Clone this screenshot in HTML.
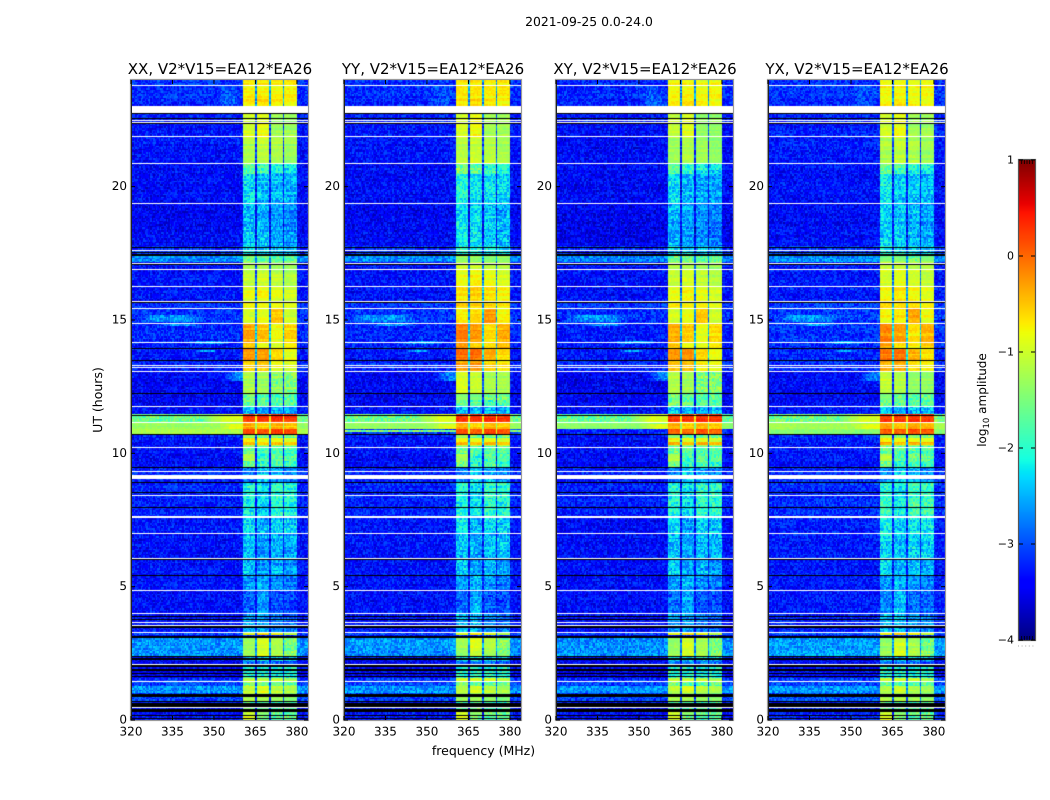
<!DOCTYPE html>
<html lang="en">
<head>
<meta charset="utf-8">
<title>2021-09-25 0.0-24.0 dynamic spectra</title>
<style>
html,body{margin:0;padding:0;background:#fff;}
#figure{position:relative;width:1050px;height:800px;overflow:hidden;background:#fff;}
#figure canvas{position:absolute;display:block;}
#overlay{position:absolute;left:0;top:0;}
#overlay text{font-family:"DejaVu Sans","Liberation Sans",sans-serif;fill:#000;text-rendering:geometricPrecision;}
</style>
</head>
<body>
<div id="figure">
  <svg id="overlay" width="1050" height="800" viewBox="0 0 1050 800">
    <text x="589" y="26" text-anchor="middle" font-size="12.4">2021-09-25 0.0-24.0</text>
    <text x="483.5" y="755" text-anchor="middle" font-size="12.5">frequency (MHz)</text>
    <text transform="translate(102,400) rotate(-90)" text-anchor="middle" font-size="12.5">UT (hours)</text>
    <text transform="translate(986,400) rotate(-90)" text-anchor="middle" font-size="12">log<tspan font-size="8.5" dy="3">10</tspan><tspan dy="-3"> amplitude</tspan></text>
    <line x1="1018" y1="646" x2="1035" y2="646" stroke="#aaa" stroke-width="1" stroke-dasharray="1 2.6"/>
  </svg>
</div>
<script>
// ---- Axis tick data ----
const freqTicks = [320, 335, 350, 365, 380];
const hourTicks = [0, 5, 10, 15, 20];
const colorTicks = [1, 0, -1, -2, -3, -4];
const panelNames = ['XX', 'YY', 'XY', 'YX'];
const panelTitles = ['XX, V2*V15=EA12*EA26', 'YY, V2*V15=EA12*EA26', 'XY, V2*V15=EA12*EA26', 'YX, V2*V15=EA12*EA26'];

// ---- Heatmap data: log10 amplitude per time band ----
const bandTopHour = [24.00,23.25,22.76,22.39,21.86,20.89,20.44,19.35,17.74,17.40,17.14,16.88,16.24,15.68,15.45,14.89,14.14,13.91,13.50,13.05,12.23,11.78,11.44,11.18,10.91,10.70,10.58,10.46,10.35,10.24,9.94,9.74,9.49,8.89,7.58,6.98,6.00,5.40,4.84,4.01,3.30,3.15,3.04,2.40,2.25,2.06,1.58,1.46,1.28,1.01,0.71,0.45,0.30,0.15];
const bandBackground = [-3.05,-3.1,-3.1,-3.2,-3.2,-3.25,-3.25,-3.3,-3.0,-2.55,-3.2,-3.2,-3.2,-3.0,-3.0,-3.1,-3.1,-3.15,-3.1,-3.3,-3.3,-3.2,-1.45,-1.2,-3.0,-3.2,-3.2,-3.2,-3.2,-3.2,-3.25,-3.25,-3.1,-3.1,-3.2,-3.2,-3.2,-3.2,-3.2,-3.2,-2.9,-3.3,-2.5,-3.3,-3.3,-3.3,-3.0,-2.9,-2.5,-2.9,-3.2,-3.3,-3.2,-3.2];
const sb1Level = [-0.75,-0.7,-1.0,-1.0,-1.2,-1.7,-2.25,-2.45,-2.2,-1.6,-1.2,-1.1,-0.9,-0.75,-0.95,-0.35,-0.5,-0.25,-0.55,-1.2,-1.6,-2.4,0.25,-0.4,0.1,-1.4,-0.8,-0.4,-1.2,-1.6,-1.2,-1.6,-2.8,-2.1,-2.3,-2.45,-2.45,-2.7,-2.9,-2.6,-0.85,-3.2,-1.3,-2.3,-2.8,-2.0,-1.0,-1.5,-1.1,-1.2,-1.7,-0.9,-1.0,-0.9];
const sb2Level = [-0.75,-0.6,-0.85,-0.85,-1.1,-1.9,-2.45,-2.5,-2.3,-1.6,-1.2,-1.0,-0.8,-0.8,-0.85,-0.5,-0.8,-0.25,-0.5,-1.3,-1.7,-2.5,0.25,-0.6,0.05,-1.6,-0.9,-0.5,-1.2,-1.8,-1.9,-2.0,-2.4,-2.3,-2.55,-2.6,-2.65,-2.6,-2.6,-2.6,-0.6,-3.2,-0.95,-2.3,-2.7,-2.0,-1.0,-1.7,-0.9,-1.2,-1.7,-1.4,-1.4,-1.5];
const sb3Level = [-0.8,-0.7,-1.3,-1.3,-1.2,-2.1,-2.5,-2.6,-2.4,-1.7,-1.3,-1.1,-0.9,-0.8,-0.5,-0.85,-0.9,-0.6,-0.8,-1.5,-1.8,-2.5,0.3,-0.45,0.2,-1.6,-0.9,-0.4,-1.2,-1.8,-1.7,-1.8,-2.6,-2.0,-2.35,-2.5,-2.55,-2.75,-3.0,-2.8,-0.8,-3.2,-1.2,-2.3,-2.8,-2.1,-1.0,-1.7,-1.1,-1.3,-1.8,-1.7,-1.6,-1.8];
const sb4Level = [-0.75,-0.8,-1.3,-1.3,-1.3,-2.2,-2.55,-2.7,-2.5,-1.6,-1.3,-1.2,-1.0,-0.9,-1.0,-0.6,-0.7,-0.85,-0.9,-1.5,-1.75,-2.5,0.25,-0.55,0.1,-1.6,-1.0,-0.5,-1.2,-1.8,-1.8,-1.9,-2.8,-2.05,-2.4,-2.5,-2.65,-2.85,-3.05,-2.9,-1.1,-3.2,-1.5,-2.4,-2.9,-2.1,-1.2,-1.6,-1.2,-1.4,-1.8,-1.5,-1.6,-1.6];

// Spectral-window edges in MHz
const subbandStart = [360.5, 365.5, 370.5, 375.5];
const subbandEnd = [365, 370, 375, 380];

// Polarization differences by epoch (one value per epoch, in dex)
const epochTopHour = [24, 21, 17.5, 12, 9.5, 3.3];
const windowShiftXX = [0, 0, 0, 0, 0, 0];
const windowShiftYY = [0.02, 0.2, 0.22, 0.0, 0.05, 0.0];
const windowShiftXY = [-0.08, -0.1, -0.02, 0.0, 0.0, -0.05];
const windowShiftYX = [0.0, 0.1, 0.16, 0.05, 0.15, -0.02];
const backgroundShift = [-0.15, -0.15, -0.2, -0.1];

// Brighter out-of-window interference streaks
const streakPanel = ['all','all','all','all','all','all','all','all','XX','YX','YY'];
const streakTopHour = [23.81,15.19,14.87,14.25,13.88,13.05,11.44,11.1,10.91,10.91,10.86];
const streakBottomHour = [23.0,14.93,14.77,14.1,13.8,12.74,11.18,10.91,10.70,10.70,10.8];
const streakFromMHz = [350,322,330,340,342,352,345,350,320,320,320];
const streakToMHz = [360.5,347,345,356,352,372,375,372,384,384,384];
const streakLevel = [-3.0,-2.65,-2.6,-2.6,-2.6,-2.7,-0.95,-0.9,-1.25,-1.4,-1.5];
const streakFade = [1,1,1,1,1,1,1,1,0,0,0];

// Flagged integrations: white = no data, black = separator rows
const whiteRowHour = [23.81,22.56,22.5,22.43,21.89,20.9,19.38,17.61,17.14,16.9,16.26,15.72,15.46,14.89,14.16,13.32,13.23,13.08,11.79,11.18,10.25,9.33,8.44,7.0,6.09,4.86,4.02,3.66,3.55,3.31,2.09,1.47,0.48];
const whiteBlockTop = [23.04, 9.19, 7.65];
const whiteBlockBottom = [22.78, 9.04, 7.58];
const blackRowHour = [22.76,22.59,22.39,17.73,17.54,17.11,15.69,13.94,13.5,12.25,11.45,10.73,9.5,8.91,8.54,7.98,6.04,5.43,3.9,3.79];
const blackBlockTop = [17.48,3.53,3.16,2.4,2.33,2.06,1.9,1.77,1.65,0.99,0.92,0.71,0.64,0.41,0.19,0.08];
const blackBlockBottom = [17.40,3.44,3.06,2.36,2.25,1.98,1.85,1.72,1.62,0.96,0.88,0.67,0.5,0.31,0.15,0.04];

// Decorative cell-to-cell speckle only. It imitates the look of the noise and is
// not measured from the reference; the band arrays above carry the readable data.
const speckle = [0.7,-0.4,0.1,-0.9,0.5,1,-0.2,-0.7,0.3,0.9,-1,0.2,0.6,-0.5,-0.1,0.8,-0.8,0.4,-0.3,1,-0.6,0.05,0.75,-0.95,0.35,-0.15,0.55,-0.75,0.95,-0.25,0.15,-0.55,0.85,-0.45,0.25,-0.85,0.65,-0.05,0.45,-0.65,1,-0.35,-0.9,0.5,0.1,-0.7,0.8,-0.2,0.3,-1,0.6,0.2,-0.4,0.9,-0.6,0.4,-0.1,0.7,-0.8,0,0.5];

// ---- Layout ----
const panelLeft = [131, 344, 556, 768];
const panelTop = 80, panelWidth = 177, panelHeight = 640;
const freqMin = 320, freqMax = 384, hourMin = 0, hourMax = 24;
const colorMin = -4, colorMax = 1;
const barLeft = 1019, barTop = 160, barWidth = 16, barHeight = 480;
const SVGNS = 'http://www.w3.org/2000/svg';
const figure = document.getElementById('figure');
const overlay = document.getElementById('overlay');

function xScale(freq) { return (freq - freqMin) / (freqMax - freqMin) * panelWidth; }
function yScale(hour) { return (hourMax - hour) / (hourMax - hourMin) * panelHeight; }
function colorBarY(v) { return barTop + (colorMax - v) / (colorMax - colorMin) * barHeight; }

function ramp(t, a, b, va, vb) { return va + (vb - va) * (t - a) / (b - a); }
function jet(v) {
  const t = Math.max(0, Math.min(1, (v - colorMin) / (colorMax - colorMin)));
  const r = t < 0.35 ? 0 : t < 0.66 ? ramp(t, 0.35, 0.66, 0, 1) : t < 0.89 ? 1 : ramp(t, 0.89, 1, 1, 0.5);
  const g = t < 0.125 ? 0 : t < 0.375 ? ramp(t, 0.125, 0.375, 0, 1) : t < 0.64 ? 1 : t < 0.91 ? ramp(t, 0.64, 0.91, 1, 0) : 0;
  const b = t < 0.11 ? ramp(t, 0, 0.11, 0.5, 1) : t < 0.34 ? 1 : t < 0.65 ? ramp(t, 0.34, 0.65, 1, 0) : 0;
  return 'rgb(' + Math.round(r * 255) + ',' + Math.round(g * 255) + ',' + Math.round(b * 255) + ')';
}

function bandIndex(hour) {
  let idx = 0;
  for (let i = 0; i < bandTopHour.length; i++) { if (bandTopHour[i] >= hour) idx = i; }
  return idx;
}
function epochShift(panelIndex, hour) {
  const shifts = [windowShiftXX, windowShiftYY, windowShiftXY, windowShiftYX][panelIndex];
  let idx = 0;
  for (let i = 0; i < epochTopHour.length; i++) { if (epochTopHour[i] >= hour) idx = i; }
  return shifts[idx];
}
function baseLevel(panelIndex, freq, hour) {
  const b = bandIndex(hour);
  const levels = [sb1Level[b], sb2Level[b], sb3Level[b], sb4Level[b]];
  const shift = epochShift(panelIndex, hour);
  const baseBg = bandBackground[b] + backgroundShift[panelIndex];
  let bg = baseBg;
  for (let s = 0; s < streakLevel.length; s++) {
    const applies = streakPanel[s] === 'all' || streakPanel[s] === panelNames[panelIndex];
    if (applies && hour <= streakTopHour[s] && hour >= streakBottomHour[s] &&
        freq >= streakFromMHz[s] && freq <= streakToMHz[s]) {
      let weight = 1;
      if (streakFade[s]) {
        const edge = (streakToMHz[s] - streakFromMHz[s]) * 0.3;
        weight = Math.min(1, (freq - streakFromMHz[s]) / edge, (streakToMHz[s] - freq) / edge);
      }
      bg = Math.max(bg, baseBg + (streakLevel[s] - baseBg) * weight);
    }
  }
  for (let k = 0; k < 4; k++) {
    if (freq >= subbandStart[k] && freq < subbandEnd[k]) return levels[k] + shift;
  }
  if (freq >= subbandStart[0] && freq < subbandEnd[3]) {
    const mean = (levels[0] + levels[1] + levels[2] + levels[3]) / 4 + shift;
    return Math.max(mean > -0.2 ? mean - 1 : mean - 1.9, baseBg);
  }
  return bg;
}

function drawPanel(panelIndex) {
  const canvas = document.createElement('canvas');
  
  
  canvas.width = panelWidth;
  canvas.height = panelHeight;
  canvas.style.left = panelLeft[panelIndex] + 'px';
  canvas.style.top = panelTop + 'px';
  figure.insertBefore(canvas, overlay);
  const ctx = canvas.getContext('2d');
  const freqStep = 0.5, hourStep = 0.06;
  const cols = Math.round((freqMax - freqMin) / freqStep);
  const rows = Math.round((hourMax - hourMin) / hourStep);
  for (let r = 0; r < rows; r++) {
    const hTop = hourMax - r * hourStep;
    const hMid = hTop - hourStep / 2;
    const y0 = Math.round(yScale(hTop));
    const y1 = Math.round(yScale(hTop - hourStep));
    const rowNoise = speckle[(r * r * 5 + r + panelIndex * 9) % speckle.length];
    for (let c = 0; c < cols; c++) {
      const fLeft = freqMin + c * freqStep;
      const x0 = Math.round(xScale(fLeft));
      const x1 = Math.round(xScale(fLeft + freqStep));
      const level = baseLevel(panelIndex, fLeft + 0.01, hMid);
      const inWindow = fLeft >= subbandStart[0] && fLeft < subbandEnd[3];
      const amp = level > -1.5 ? 0.11 : level > -2.6 ? 0.38 : 0.34;
      const n = speckle[(c * c * 3 + r * r * 7 + c * r + panelIndex * 17 + c * 5 + r) % speckle.length];
      ctx.fillStyle = jet(level + n * amp + rowNoise * (inWindow ? 0.12 : 0.06));
      ctx.fillRect(x0, y0, x1 - x0, y1 - y0);
    }
  }
  ctx.fillStyle = '#ffffff';
  whiteRowHour.forEach(function (h) { ctx.fillRect(0, Math.round(yScale(h)), panelWidth, 1); });
  whiteBlockTop.forEach(function (h, i) {
    const y0 = Math.round(yScale(h));
    ctx.fillRect(0, y0, panelWidth, Math.round(yScale(whiteBlockBottom[i])) - y0);
  });
  ctx.fillStyle = '#000000';
  blackRowHour.forEach(function (h) { ctx.fillRect(0, Math.round(yScale(h)), panelWidth, 1); });
  blackBlockTop.forEach(function (h, i) {
    const y0 = Math.round(yScale(h));
    ctx.fillRect(0, y0, panelWidth, Math.max(1, Math.round(yScale(blackBlockBottom[i])) - y0));
  });
}

function svgLine(x1, y1, x2, y2, stroke, width) {
  const el = document.createElementNS(SVGNS, 'line');
  el.setAttribute('x1', x1);
  el.setAttribute('y1', y1);
  el.setAttribute('x2', x2);
  el.setAttribute('y2', y2);
  el.setAttribute('stroke', stroke);
  el.setAttribute('stroke-width', width);
  return el;
}
function svgText(x, y, anchor, size, content) {
  const el = document.createElementNS(SVGNS, 'text');
  el.setAttribute('x', x);
  el.setAttribute('y', y);
  el.setAttribute('text-anchor', anchor);
  el.setAttribute('font-size', size);
  el.textContent = content;
  return el;
}

function drawAxes(panelIndex) {
  const key = panelNames[panelIndex].toLowerCase();
  const left = panelLeft[panelIndex];
  const bottom = panelTop + panelHeight;

  const title = svgText(left + panelWidth / 2 + 0.5, 74, 'middle', 15, panelTitles[panelIndex]);
  
  
  overlay.appendChild(title);

  const outer = document.createElementNS(SVGNS, 'rect');
  outer.setAttribute('x', left - 0.5);
  outer.setAttribute('y', panelTop - 0.5);
  outer.setAttribute('width', panelWidth + 1);
  outer.setAttribute('height', panelHeight + 1);
  outer.setAttribute('fill', 'none');
  outer.setAttribute('stroke', '#9a9a9a');
  outer.setAttribute('stroke-width', '1.2');
  
  
  overlay.appendChild(outer);

  const inner = svgLine(left + 0.5, panelTop, left + 0.5, bottom, '#222', 1);
  
  
  overlay.appendChild(inner);

  freqTicks.forEach(function (f) {
    const x = left + xScale(f);
    const tickB = svgLine(x, bottom, x, bottom - 4, '#000', 1);
    
    
    overlay.appendChild(tickB);
    const tickT = svgLine(x, panelTop, x, panelTop + 4, '#000', 1);
    
    
    overlay.appendChild(tickT);
    const label = svgText(x, bottom + 15.5, 'middle', 12, String(f));
    
    
    overlay.appendChild(label);
  });

  hourTicks.forEach(function (h) {
    const y = panelTop + yScale(h);
    const tickL = svgLine(left, y, left + 4, y, '#000', 1);
    
    
    overlay.appendChild(tickL);
    const tickR = svgLine(left + panelWidth - 4, y, left + panelWidth, y, '#000', 1);
    
    
    overlay.appendChild(tickR);
    const label = svgText(left - 4, y + 3.5, 'end', 12, String(h));
    
    
    overlay.appendChild(label);
  });
}

function drawColorbar() {
  const canvas = document.createElement('canvas');
  
  
  canvas.width = barWidth;
  canvas.height = barHeight;
  canvas.style.left = barLeft + 'px';
  canvas.style.top = barTop + 'px';
  figure.insertBefore(canvas, overlay);
  const ctx = canvas.getContext('2d');
  for (let i = 0; i < barHeight; i++) {
    ctx.fillStyle = jet(colorMax - (i + 0.5) / barHeight * (colorMax - colorMin));
    ctx.fillRect(0, i, barWidth, 1);
  }
  const frame = document.createElementNS(SVGNS, 'rect');
  frame.setAttribute('x', barLeft - 0.5);
  frame.setAttribute('y', barTop - 0.5);
  frame.setAttribute('width', barWidth + 1);
  frame.setAttribute('height', barHeight + 1);
  frame.setAttribute('fill', 'none');
  frame.setAttribute('stroke', '#555');
  frame.setAttribute('stroke-width', '1.2');
  
  
  overlay.appendChild(frame);
  for (let i = 1; i < 6; i++) {
    const x = barLeft + i * barWidth / 6;
    const minorTop = svgLine(x, barTop, x, barTop + 4, '#000', 0.8);
    
    
    overlay.appendChild(minorTop);
    const minorBottom = svgLine(x, barTop + barHeight, x, barTop + barHeight - 4, '#000', 0.8);
    
    
    overlay.appendChild(minorBottom);
  }
  colorTicks.forEach(function (v) {
    const y = colorBarY(v);
    const tickL = svgLine(barLeft, y, barLeft + 4, y, '#000', 1);
    
    
    overlay.appendChild(tickL);
    const tickR = svgLine(barLeft + barWidth - 4, y, barLeft + barWidth, y, '#000', 1);
    
    
    overlay.appendChild(tickR);
    const content = v < 0 ? '\u2212' + Math.abs(v) : String(v);
    const label = svgText(barLeft - 5, y + 3.5, 'end', 11, content);
    
    
    overlay.appendChild(label);
  });
}

panelNames.forEach(function (name, i) {
  drawPanel(i);
  drawAxes(i);
});
drawColorbar();
</script>
</body>
</html>
